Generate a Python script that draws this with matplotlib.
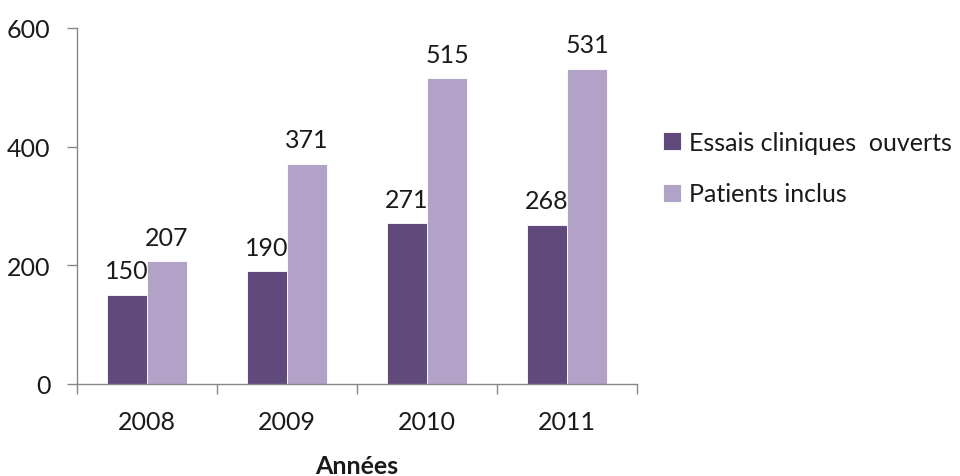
import matplotlib
matplotlib.use("Agg")
import matplotlib.pyplot as plt
import numpy as np

years = ["2008", "2009", "2010", "2011"]
essais = [150, 190, 271, 268]
patients = [207, 371, 515, 531]
series_names = ["Essais cliniques  ouverts", "Patients inclus"]
colors = ["#604A7B", "#B3A2C7"]

plt.rcParams['font.family'] = ['Lato', 'DejaVu Sans']
FS = 18

fig = plt.figure(figsize=(9.6, 4.77), dpi=100)
ax = fig.add_axes([77/960, 1-385/477, 560/960, 356/477])

x = np.arange(len(years))
w = 0.286
b1 = ax.bar(x - w/2, essais, w, color=colors[0], edgecolor="white", linewidth=0.6, label=series_names[0])
b2 = ax.bar(x + w/2, patients, w, color=colors[1], edgecolor="white", linewidth=0.6, label=series_names[1])

for bars, vals in ((b1, essais), (b2, patients)):
    for r, v in zip(bars, vals):
        ax.annotate(str(v), (r.get_x() + r.get_width()/2, v), xytext=(0, 9),
                    textcoords="offset points", ha="center", va="bottom",
                    fontsize=FS, color="#1a1a1a")

ax.set_xlim(-0.5, len(years) - 0.5)
ax.set_ylim(0, 600)
ax.set_yticks([0, 200, 400, 600])
ax.set_xticks(np.arange(-0.5, len(years), 1.0))
ax.set_xticklabels([])
ax.set_xticks(x, minor=True)
ax.set_xticklabels(years, minor=True)
ax.tick_params(axis="x", which="minor", length=0, pad=19, labelsize=FS, labelcolor="#1a1a1a")
ax.tick_params(axis="x", which="major", length=7, color="#888888", width=1)
ax.tick_params(axis="y", length=7, color="#888888", width=1, pad=12, labelsize=FS, labelcolor="#1a1a1a")

for s in ("top", "right"):
    ax.spines[s].set_visible(False)
for s in ("left", "bottom"):
    ax.spines[s].set_color("#888888")
    ax.spines[s].set_linewidth(1)

ax.set_xlabel("Années", fontsize=FS, fontweight="bold", labelpad=15, color="#1a1a1a")

fig.legend(handles=[b1, b2], labels=series_names, loc="center left",
           bbox_to_anchor=(640/960, 1-169/477), frameon=False, fontsize=FS,
           handlelength=0.75, handleheight=0.75, handletextpad=0.3, labelspacing=1.15,
           labelcolor="#1a1a1a")

fig.savefig("out.png", dpi=100)
